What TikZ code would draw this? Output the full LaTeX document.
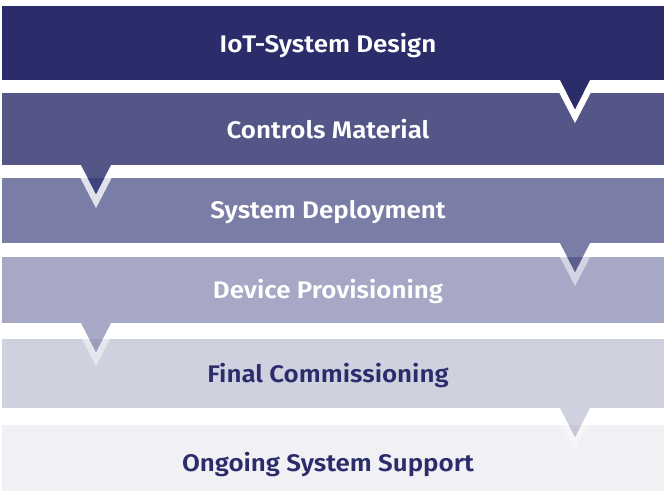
\documentclass[tikz,border=0pt]{standalone}
\usepackage{fontspec}
\newfontfamily\lbl{Fira Sans SemiBold}[FakeStretch=1.08]
\definecolor{cA}{HTML}{2B2D6B}
\definecolor{cB}{HTML}{535686}
\definecolor{cC}{HTML}{7A7DA5}
\definecolor{cD}{HTML}{A7A8C5}
\definecolor{cE}{HTML}{D0D1DF}
\definecolor{cF}{HTML}{F0F0F5}
\definecolor{tB}{HTML}{3F427C}
\definecolor{tC}{HTML}{5C5F8E}
\definecolor{tD}{HTML}{9C9EBC}
\definecolor{tE}{HTML}{C6C7D7}
\definecolor{oB}{HTML}{E1E1EB}
\definecolor{oC}{HTML}{D3D4E2}
\definecolor{oD}{HTML}{E6E6EF}
\definecolor{oE}{HTML}{F6F6F9}
\tikzset{
  band/.style={inner sep=0pt, outer sep=0pt, minimum width=662pt, anchor=north west},
  label/.style={anchor=base, inner sep=0pt, font=\lbl\fontsize{24}{28}\selectfont},
}
% #1 centre x, #2 base y, #3 band colour, #4 tip colour, #5 outline colour, #6 next top, #7 next bottom
\newcommand\pointer[7]{%
  \begin{scope}
    \clip (0,#6) rectangle (664,#7);
    \draw[#5, line width=13pt, line join=miter] (#1-20.2,#2-10) -- (#1,#2+29) -- (#1+20.2,#2-10);
  \end{scope}
  \fill[#3] (#1-15.5,#2-1) -- (#1,#2+29) -- (#1+15.5,#2-1) -- cycle;
  \begin{scope}
    \clip (0,#6) rectangle (664,#7);
    \fill[#4] (#1-15.5,#2-1) -- (#1,#2+29) -- (#1+15.5,#2-1) -- cycle;
  \end{scope}
}
\begin{document}
\begin{tikzpicture}[x=1pt,y=-1pt]
\useasboundingbox (0,0) rectangle (664,491);
\fill[white] (0,0) rectangle (664,491);
% bands from bottom to top
\node[band, fill=cF, minimum height=66pt] (b6) at (2,425) {};
\pointer{575}{408}{cE}{tE}{oE}{425}{491}
\node[band, fill=cE, minimum height=69pt] (b5) at (2,339) {};
\pointer{96}{323}{cD}{tD}{oD}{339}{408}
\node[band, fill=cD, minimum height=66pt] (b4) at (2,257) {};
\pointer{575}{243}{cC}{tC}{oC}{257}{323}
\node[band, fill=cC, minimum height=65pt] (b3) at (2,178) {};
\pointer{96}{165}{cB}{tB}{oB}{178}{243}
\node[band, fill=cB, minimum height=72pt] (b2) at (2,93) {};
\pointer{575}{80}{cA}{cA}{white}{93}{165}
\node[band, fill=cA, minimum height=74pt] (b1) at (2,6) {};
% labels
\node[label, text=white] (l1) at (328,52) {IoT-System Design};
\node[label, text=white] (l2) at (328,138.3) {Controls Material};
\node[label, text=white] (l3) at (328,218) {System Deployment};
\node[label, text=white] (l4) at (328,298) {Device Provisioning};
\node[label, text=cA] (l5) at (328,382) {Final Commissioning};
\node[label, text=cA] (l6) at (328,471) {Ongoing System Support};
\end{tikzpicture}
\end{document}
